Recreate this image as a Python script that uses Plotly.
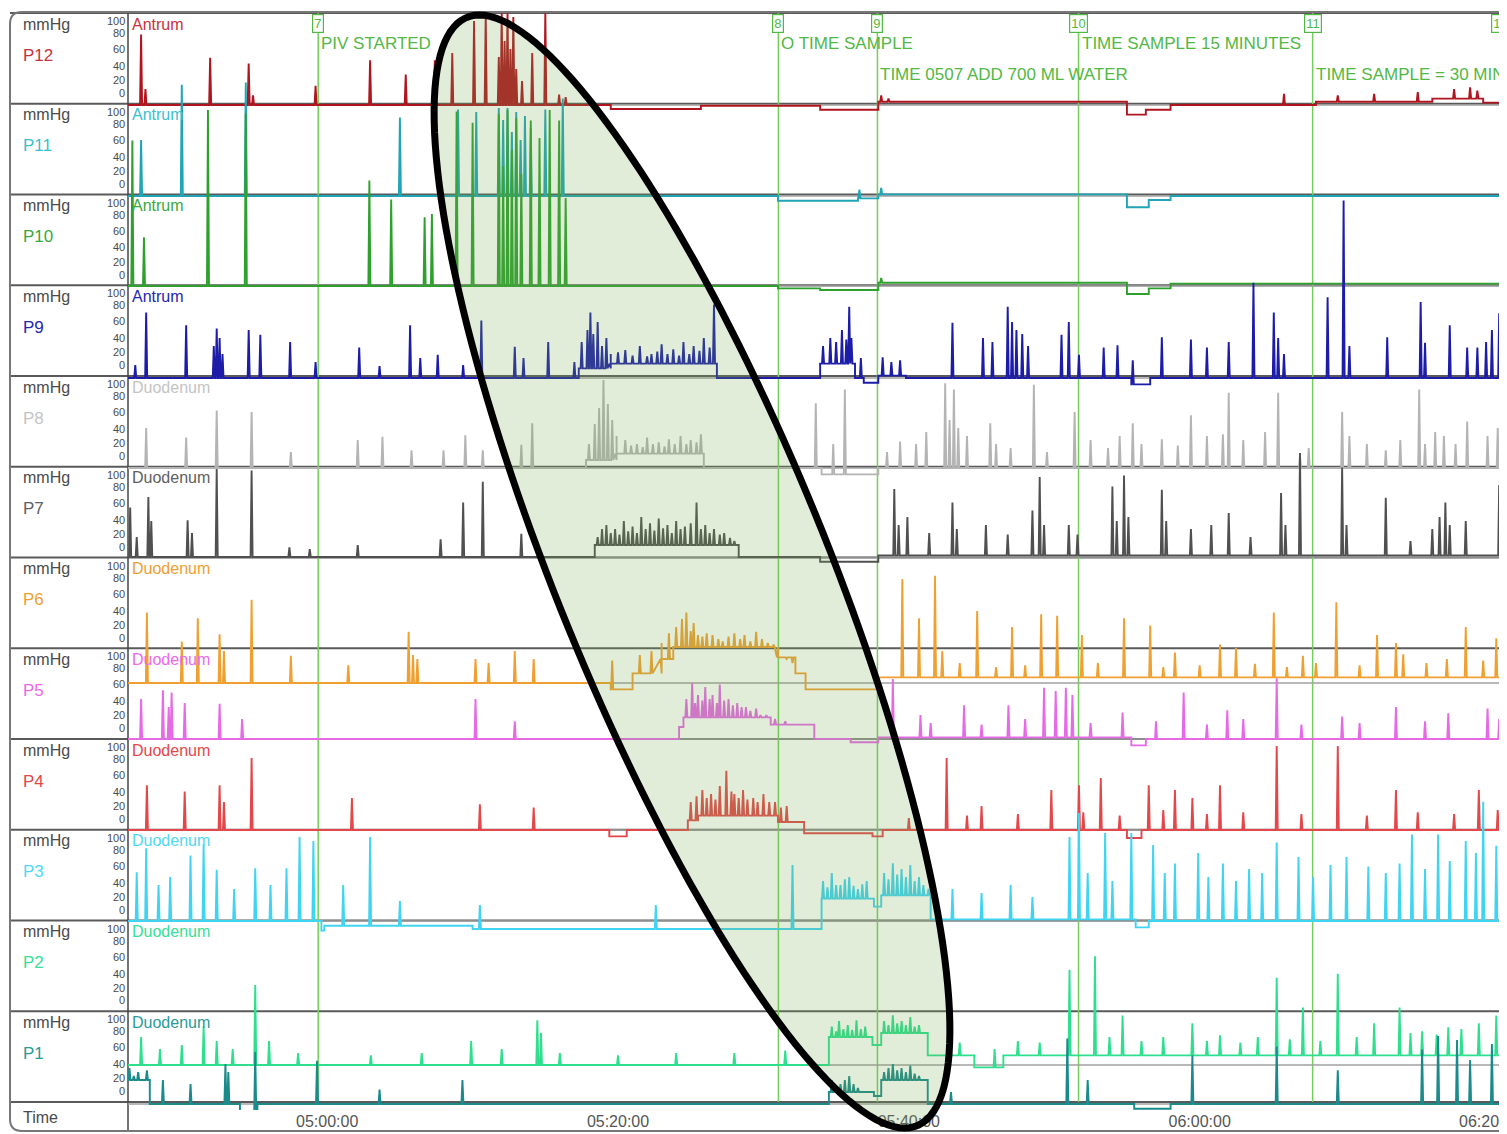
import plotly.graph_objects as go
import pandas as pd
import numpy as np

# ---------------- DATA (time in minutes after 05:00:00, pressure in mmHg) ----------------
channels = ["P12", "P11", "P10", "P9", "P8", "P7", "P6", "P5", "P4", "P3", "P2", "P1"]
regions = ["Antrum"] * 4 + ["Duodenum"] * 8
trace_colors = ["#b0141e", "#1fa5b5", "#2ea02e", "#1c1ca8", "#b4b4b4", "#505050",
                "#f0a030", "#e66ae6", "#e4474a", "#3fd4f2", "#2ee08e", "#1a8a8a"]
label_colors = ["#c8323c", "#3cc0cf", "#3aa83a", "#2626b0", "#c4c4c4", "#606060",
                "#f0a030", "#ea6aea", "#e4474a", "#50d8f4", "#36e096", "#2a9a9a"]

event_numbers = ["7", "8", "9", "10", "11", "12"]
event_times = [-0.62, 31.03, 37.84, 51.67, 67.77, 80.7]
event_texts = ["PIV STARTED", "O TIME SAMPLE", "TIME 0507 ADD 700 ML WATER",
               "TIME SAMPLE 15 MINUTES", "TIME SAMPLE = 30 MINUTES", ""]
event_text_rows = [0, 0, 1, 0, 1, 0]

time_ticks = [0, 20, 40, 60]
last_time_tick = 80
scale_ticks = [100, 80, 60, 40, 20, 0]

T_START, T_END = -13.7, 81.0

p12_steps = [(-13.7, 0), (19.5, -5), (25.7, -1), (33.9, -6), (37.9, 4), (55.0, -12), (56.3, -6),
             (58.0, 0), (68.0, 4), (76.0, 8), (79.5, 3)]
p12_spikes = [(-12.8, 88), (-12.5, 20), (-8.05, 59), (-5.4, 52), (-5.1, 12), (-0.8, 24), (2.95, 56),
              (5.4, 38), (7.4, 56), (8.6, 65), (10.1, 105), (10.9, 112), (11.8, 60), (12.0, 115),
              (12.2, 80), (12.4, 115), (12.6, 70), (12.8, 110), (13.0, 45), (13.4, 30), (14.1, 65),
              (15.0, 115), (15.95, 13), (16.4, 10), (38.1, 12), (38.6, 8), (65.8, 14), (69.5, 12),
              (72.0, 14), (75.0, 16), (77.5, 20), (78.6, 22), (79.1, 18)]

p11_steps = [(-13.7, 0), (31.0, -6), (36.5, -3), (37.9, 2), (55.0, -14), (56.5, -5), (58.0, 0)]
p11_spikes = [(-12.8, 70), (-10.0, 139), (-5.6, 142), (5.0, 98), (9.0, 108), (10.25, 105), (11.8, 110),
              (12.1, 95), (12.4, 110), (12.7, 80), (13.0, 105), (13.3, 70), (13.6, 100), (14.0, 85),
              (15.0, 108), (16.2, 122), (36.6, 8), (38.1, 10)]

p10_steps = [(-13.7, 0), (31.0, -3), (33.9, -5), (37.9, 4), (55.0, -10), (56.5, -3), (58.0, 3)]
p10_spikes = [(-13.4, 182), (-12.6, 61), (-8.2, 220), (-5.6, 216), (2.9, 132), (4.4, 108), (6.7, 86),
              (7.2, 90), (8.9, 218), (10.0, 204), (11.8, 215), (12.1, 150), (12.4, 220), (12.7, 170),
              (13.0, 210), (13.35, 140), (14.0, 207), (14.6, 185), (15.3, 220), (15.95, 207),
              (16.4, 110), (38.1, 10)]

p9_steps = [(-13.7, 0), (17.3, 12), (19.5, 18), (26.8, 0), (33.9, 18), (36.3, 0), (36.9, -6),
            (37.9, 3), (39.8, 0), (55.3, -8), (56.6, 0)]
p9_spikes = [(-13.2, 16), (-12.45, 82), (-9.7, 66), (-7.8, 40), (-7.6, 62), (-7.4, 50), (-7.2, 30),
             (-5.4, 60), (-4.6, 54), (-2.55, 45), (-0.8, 20), (2.2, 38), (3.6, 15), (5.7, 66),
             (6.4, 25), (7.6, 29), (9.35, 16), (10.6, 72), (12.9, 39), (13.5, 25), (15.2, 45),
             (17.0, 20), (17.5, 45), (17.9, 60), (18.1, 82), (18.3, 55), (18.6, 70), (18.9, 40),
             (19.2, 50), (19.5, 30), (20.0, 32), (20.5, 35), (21.0, 28), (21.5, 40), (22.0, 27),
             (22.3, 30), (22.7, 33), (23.0, 42), (23.4, 30), (23.8, 36), (24.2, 28), (24.5, 45),
             (24.9, 30), (25.2, 40), (25.6, 34), (25.9, 50), (26.3, 38), (26.6, 92), (34.1, 40),
             (34.6, 50), (35.0, 45), (35.4, 60), (35.7, 48), (35.9, 89), (36.05, 50), (36.7, 25),
             (38.2, 26), (38.8, 20), (39.4, 22), (43.0, 69), (45.1, 50), (45.75, 45), (46.8, 89),
             (47.1, 70), (47.4, 60), (47.8, 55), (48.2, 40), (50.5, 54), (51.0, 70), (51.7, 29),
             (53.4, 38), (54.35, 41), (55.4, 22), (57.4, 51), (59.4, 48), (60.5, 38), (62.0, 45),
             (63.7, 119), (65.1, 82), (65.4, 50), (65.8, 30), (68.8, 101), (69.9, 222), (70.3, 40),
             (72.9, 51), (75.2, 95), (75.5, 44), (77.2, 66), (78.4, 38), (79.1, 38), (79.7, 45),
             (80.1, 60), (80.6, 81), (80.9, 50)]

p8_steps = [(-13.7, 0), (17.8, 10), (19.9, 18), (25.9, 0), (34.0, -8), (37.9, 0)]
p8_spikes = [(-12.45, 50), (-9.7, 38), (-7.6, 72), (-5.2, 70), (-2.5, 20), (2.1, 35), (3.8, 39),
             (5.8, 22), (8.0, 22), (9.5, 41), (10.7, 22), (13.35, 29), (14.1, 56), (18.0, 30),
             (18.4, 55), (18.7, 75), (19.0, 110), (19.3, 80), (19.6, 60), (19.9, 40), (20.5, 35),
             (20.9, 28), (21.3, 30), (21.7, 26), (22.0, 38), (22.4, 30), (22.8, 32), (23.2, 27),
             (23.5, 36), (23.9, 30), (24.3, 40), (24.7, 30), (25.0, 35), (25.4, 32), (25.7, 42),
             (33.6, 81), (34.8, 30), (35.6, 98), (38.5, 20), (39.4, 33), (40.5, 30), (41.2, 45),
             (42.5, 106), (42.8, 60), (43.1, 98), (43.4, 50), (44.0, 40), (45.6, 56), (46.0, 30),
             (47.0, 25), (48.6, 104), (49.5, 20), (51.4, 70), (52.5, 35), (53.7, 25), (54.5, 40),
             (55.4, 56), (56.0, 30), (57.4, 36), (58.5, 28), (59.4, 66), (60.5, 40), (61.6, 42),
             (62.0, 94), (63.0, 35), (64.5, 45), (65.4, 94), (66.9, 15), (67.5, 25), (69.8, 70),
             (70.3, 40), (71.5, 30), (72.8, 22), (73.8, 35), (75.1, 98), (75.5, 30), (76.2, 45),
             (76.8, 40), (77.6, 30), (78.4, 58), (79.8, 40), (80.5, 50), (81.0, 35)]

p7_steps = [(-13.7, 0), (18.4, 15), (28.3, 0), (33.9, -6), (37.9, 2)]
p7_spikes = [(-13.55, 62), (-13.1, 25), (-12.3, 75), (-12.1, 45), (-9.6, 46), (-9.3, 30), (-7.6, 110),
             (-5.2, 108), (-2.6, 12), (-1.2, 10), (2.1, 15), (7.8, 22), (9.35, 68), (10.7, 94),
             (13.35, 29), (18.6, 25), (18.9, 35), (19.2, 40), (19.5, 30), (19.8, 35), (20.1, 28),
             (20.4, 45), (20.7, 32), (21.0, 38), (21.3, 30), (21.6, 50), (21.9, 35), (22.2, 42),
             (22.5, 33), (22.8, 48), (23.1, 36), (23.4, 40), (23.7, 30), (24.0, 45), (24.3, 35),
             (24.6, 38), (25.0, 42), (25.4, 68), (25.7, 35), (26.0, 40), (26.3, 30), (26.6, 35),
             (27.0, 28), (27.3, 30), (27.7, 24), (28.0, 20), (39.0, 85), (39.3, 40), (39.9, 50),
             (41.4, 30), (43.0, 68), (43.3, 35), (45.3, 40), (46.8, 28), (48.5, 58), (49.0, 100),
             (49.3, 40), (51.0, 40), (51.6, 28), (54.0, 88), (54.3, 45), (54.8, 102), (55.1, 50),
             (57.4, 84), (57.7, 45), (59.4, 35), (60.8, 40), (62.0, 55), (63.5, 25), (65.6, 80),
             (65.9, 40), (66.9, 130), (69.8, 112), (70.1, 40), (72.8, 74), (74.5, 20), (76.0, 35),
             (76.5, 50), (76.9, 68), (77.2, 40), (78.3, 45), (80.6, 90), (81.0, 70)]

p6_steps = [(-13.7, 0), (19.5, -8), (21.0, 12), (23.0, 30), (23.8, 45), (31.0, 32), (32.2, 12),
            (32.9, -8), (37.9, 7)]
p6_spikes = [(-12.4, 88), (-10.0, 52), (-8.9, 81), (-7.4, 61), (-7.1, 40), (-5.2, 104), (-2.5, 34),
             (1.45, 22), (5.6, 64), (5.9, 35), (6.2, 30), (10.2, 30), (11.1, 25), (12.9, 40),
             (14.2, 30), (19.6, 28), (21.5, 35), (22.3, 40), (23.0, 50), (23.5, 62), (24.0, 70),
             (24.4, 80), (24.7, 88), (25.0, 65), (25.2, 75), (25.5, 60), (25.8, 58), (26.1, 62),
             (26.5, 60), (26.9, 55), (27.2, 52), (27.6, 58), (28.0, 62), (28.4, 55), (28.7, 60),
             (29.1, 52), (29.5, 64), (29.9, 55), (30.3, 50), (30.7, 48), (31.0, 42), (31.6, 30),
             (32.0, 25), (39.55, 130), (40.7, 81), (41.8, 134), (42.3, 40), (43.5, 25), (44.7, 90),
             (46.0, 20), (47.1, 70), (48.0, 22), (49.1, 86), (50.2, 84), (51.9, 60), (53.0, 25),
             (54.8, 81), (56.6, 72), (57.5, 20), (58.3, 38), (60.0, 22), (61.4, 48), (62.5, 44),
             (63.8, 24), (65.1, 88), (66.0, 20), (67.1, 34), (68.0, 25), (69.4, 101), (71.0, 22),
             (72.2, 60), (73.5, 50), (74.0, 36), (75.6, 25), (77.0, 30), (78.3, 70), (79.5, 28),
             (80.4, 56)]

p5_steps = [(-13.7, 0), (24.2, 15), (24.5, 27), (30.5, 18), (33.5, 0), (36.0, -4), (37.9, 2),
            (55.3, -8), (56.3, 0)]
p5_spikes = [(-12.8, 50), (-11.3, 61), (-10.9, 40), (-10.7, 58), (-9.8, 45), (-7.4, 44), (-5.85, 25),
             (10.2, 50), (12.9, 22), (24.7, 50), (25.1, 70), (25.3, 45), (25.5, 55), (25.8, 48),
             (26.0, 65), (26.3, 50), (26.5, 55), (26.8, 45), (27.0, 68), (27.3, 48), (27.6, 50),
             (27.9, 42), (28.2, 45), (28.5, 40), (28.8, 40), (29.1, 35), (29.5, 38), (29.8, 30),
             (30.2, 30), (30.8, 25), (31.5, 22), (38.9, 75), (40.8, 30), (41.5, 20), (43.8, 42),
             (45.0, 18), (46.85, 42), (48.0, 25), (49.3, 64), (50.1, 60), (50.8, 64), (51.25, 55),
             (52.5, 20), (54.7, 33), (57.0, 22), (58.9, 58), (60.5, 18), (61.9, 36), (63.0, 25),
             (65.3, 76), (67.0, 18), (69.8, 28), (71.0, 20), (73.5, 40), (75.5, 22), (77.1, 32),
             (79.8, 38), (80.6, 25)]

p4_steps = [(-13.7, 0), (19.4, -8), (20.6, 0), (24.8, 12), (25.5, 18), (31.0, 10), (32.8, -4),
            (37.5, -8), (38.2, 0), (55.0, -10), (56.0, 0)]
p4_spikes = [(-12.4, 56), (-9.8, 48), (-7.4, 56), (-7.1, 35), (-5.2, 90), (1.7, 40), (10.5, 32),
             (14.2, 28), (25.0, 35), (25.4, 42), (25.8, 50), (26.1, 40), (26.4, 45), (26.7, 38),
             (27.0, 55), (27.45, 74), (27.8, 48), (28.0, 45), (28.3, 40), (28.6, 50), (28.9, 38),
             (29.3, 40), (29.6, 35), (30.0, 45), (30.4, 35), (30.8, 35), (31.2, 28), (31.6, 30),
             (40.0, 15), (42.6, 90), (44.0, 18), (45.0, 30), (47.5, 20), (49.8, 50), (51.7, 56),
             (52.0, 22), (53.2, 65), (54.5, 18), (56.5, 56), (57.5, 25), (58.3, 50), (59.5, 40),
             (60.5, 20), (61.4, 56), (63.0, 22), (65.3, 105), (67.0, 20), (69.5, 105), (71.5, 18),
             (73.5, 50), (75.0, 22), (77.5, 20), (79.2, 50), (80.5, 25)]

p3_steps = [(-13.7, 0), (-0.4, -12), (-0.2, -6), (10.0, -10), (34.0, 28), (37.6, 18), (38.1, 32),
            (41.5, 2), (55.6, -8), (56.5, 0)]
p3_spikes = [(-13.1, 61), (-12.45, 91), (-11.6, 45), (-10.8, 55), (-9.4, 82), (-8.5, 96), (-7.6, 64),
             (-6.4, 40), (-4.95, 66), (-3.9, 45), (-2.8, 66), (-1.9, 105), (-0.95, 100), (1.1, 45),
             (2.95, 105), (5.0, 25), (10.5, 20), (22.6, 20), (32.0, 70), (34.1, 50), (34.4, 42),
             (34.7, 60), (35.0, 45), (35.3, 45), (35.6, 52), (35.9, 55), (36.2, 44), (36.5, 40),
             (36.8, 46), (37.1, 50), (38.3, 60), (38.6, 52), (38.9, 72), (39.2, 58), (39.5, 65),
             (39.8, 55), (40.1, 70), (40.4, 50), (40.7, 55), (41.0, 45), (41.35, 40), (43.0, 40),
             (45.0, 35), (47.0, 45), (48.5, 30), (51.05, 105), (51.7, 135), (52.3, 60), (53.5, 110),
             (54.0, 50), (55.3, 110), (56.8, 95), (57.6, 60), (58.3, 72), (59.9, 85), (60.6, 55),
             (61.6, 72), (62.5, 50), (63.4, 65), (64.3, 60), (65.3, 98), (66.8, 80), (67.8, 55),
             (69.0, 70), (70.1, 80), (71.6, 68), (72.8, 60), (73.75, 72), (74.6, 108), (75.5, 65),
             (76.4, 108), (77.2, 75), (78.3, 100), (79.0, 85), (79.5, 149), (80.4, 94), (80.9, 70)]

p2_steps = [(-13.7, 0), (34.5, 35), (37.5, 25), (38.1, 40), (41.3, 12), (44.5, -3), (46.5, 12)]
p2_spikes = [(-12.8, 35), (-11.5, 20), (-10.0, 25), (-8.5, 48), (-7.6, 30), (-6.5, 20), (-4.95, 100),
             (-4.0, 30), (-2.0, 15), (3.0, 12), (6.5, 15), (9.9, 30), (12.0, 20), (14.45, 56),
             (14.7, 40), (16.0, 15), (20.0, 12), (24.0, 15), (28.0, 15), (31.5, 18), (34.7, 48),
             (35.0, 42), (35.2, 55), (35.5, 45), (35.8, 50), (36.1, 44), (36.4, 56), (36.7, 45),
             (37.0, 48), (38.3, 55), (38.6, 50), (38.9, 62), (39.2, 52), (39.5, 55), (39.8, 50),
             (40.1, 60), (40.4, 48), (40.7, 50), (43.5, 28), (45.9, 20), (47.5, 30), (49.0, 28),
             (51.05, 119), (52.8, 136), (53.8, 35), (54.7, 62), (56.0, 30), (57.5, 35), (59.5, 52),
             (60.5, 30), (61.4, 37), (62.8, 28), (64.0, 35), (65.3, 109), (66.2, 32), (67.1, 72),
             (68.3, 30), (69.5, 114), (70.8, 35), (72.0, 52), (73.75, 72), (74.5, 40), (75.3, 42),
             (76.3, 38), (77.1, 47), (78.0, 45), (79.2, 52), (80.4, 62), (80.9, 40)]

p1_steps = [(-13.7, 30), (-12.2, 0), (-6.0, -10), (-4.8, 0), (34.5, 15), (37.6, 10), (38.1, 30),
            (41.3, 0), (55.5, -6), (58.0, 0)]
p1_spikes = [(-13.6, 45), (-13.3, 35), (-13.0, 40), (-12.7, 30), (-12.4, 42), (-11.3, 30), (-9.4, 25),
             (-7.0, 50), (-6.8, 40), (-4.95, 65), (-0.7, 54), (3.6, 18), (9.3, 30), (34.7, 30),
             (35.0, 22), (35.3, 25), (35.6, 30), (35.9, 35), (36.2, 25), (36.5, 20), (38.3, 40),
             (38.6, 45), (38.9, 50), (39.2, 42), (39.5, 45), (39.8, 40), (40.1, 48), (40.4, 38),
             (40.7, 35), (42.9, 15), (50.9, 82), (52.3, 30), (59.5, 61), (65.3, 72), (69.5, 42),
             (75.3, 68), (76.4, 85), (77.7, 80), (78.6, 55), (80.1, 75)]

steps_list = [p12_steps, p11_steps, p10_steps, p9_steps, p8_steps, p7_steps,
              p6_steps, p5_steps, p4_steps, p3_steps, p2_steps, p1_steps]
spikes_list = [p12_spikes, p11_spikes, p10_spikes, p9_spikes, p8_spikes, p7_spikes,
               p6_spikes, p5_spikes, p4_spikes, p3_spikes, p2_spikes, p1_spikes]

# ---------------- LAYOUT GEOMETRY ----------------
# The page body has an 8px margin, so the figure is 8px smaller and every
# reference-pixel position below is converted relative to the plot area.
W, H = 1499, 1126
ML, MR, MT, MB = 120, 2, 4, 24
PW, PH = W - ML - MR, H - MT - MB          # 1377 x 1098
REF_L, REF_T = 128, 12                     # plot area origin in reference pixels
PX_PER_MMHG = 0.8
panel_tops = [13 + i * 90.75 for i in range(13)]
zero_px = [105, 196, 286, 378, 468, 557, 683, 739, 830, 921, 1065, 1104]
tick_offsets = [8, 20, 36, 53, 67, 80]


def px_x(px):
    return (px - REF_L) / PW


def px_y(py):
    return 1 - (py - REF_T) / PH


BASE = pd.Timestamp("2000-01-01 05:00:00")


def tm(m):
    return (BASE + pd.Timedelta(minutes=float(m))).strftime("%Y-%m-%d %H:%M:%S.%f")


def build(steps, spikes):
    steps = sorted(steps)

    def level(t):
        lv = steps[0][1]
        for ts, l in steps:
            if ts <= t:
                lv = l
        return lv

    pts = [(T_START, 0, steps[0][1])]
    prev = steps[0][1]
    for ts, lv in steps[1:]:
        pts.append((ts, 0, prev))
        pts.append((ts, 1, lv))
        prev = lv
    for t, p in spikes:
        L = level(t)
        pts.append((t - 0.07, 0, L))
        pts.append((t, 0, p))
        pts.append((t + 0.07, 0, L))
    pts.append((T_END, 2, prev))
    pts.sort(key=lambda a: (a[0], a[1]))
    return [tm(a[0]) for a in pts], [a[2] for a in pts]


fig = go.Figure()
layout_axes = {}
for i, ch in enumerate(channels):
    yname = "y" if i == 0 else f"y{i+1}"
    b = zero_px[i]
    rng = [-(REF_T + PH - b) / PX_PER_MMHG, (b - REF_T) / PX_PER_MMHG]
    ax = dict(range=rng, domain=[0, 1], visible=False, fixedrange=True)
    if i > 0:
        ax["overlaying"] = "y"
    layout_axes["yaxis" if i == 0 else f"yaxis{i+1}"] = ax
    fig.add_trace(go.Scatter(x=[tm(T_START), tm(T_END)], y=[0, 0], mode="lines",
                             line=dict(color="#a0a0a0", width=1.3), yaxis=yname,
                             hoverinfo="skip", showlegend=False))

for i, ch in enumerate(channels):
    yname = "y" if i == 0 else f"y{i+1}"
    xs, ys = build(steps_list[i], spikes_list[i])
    fig.add_trace(go.Scatter(x=xs, y=ys, mode="lines", name=ch,
                             line=dict(color=trace_colors[i], width=1.9),
                             yaxis=yname, hoverinfo="skip", showlegend=False))

shapes = []
annotations = []
FONT = "Liberation Sans, Arial, sans-serif"

for yt in panel_tops:
    shapes.append(dict(type="line", xref="paper", yref="paper", x0=px_x(10), x1=px_x(1507),
                       y0=px_y(yt), y1=px_y(yt), line=dict(color="#5a5a5a", width=2), layer="below"))
shapes.append(dict(type="line", xref="paper", yref="paper", x0=px_x(128), x1=px_x(128),
                   y0=px_y(12), y1=px_y(1131), line=dict(color="#444", width=1.5), layer="below"))
frame = (f"M {px_x(1507)},{px_y(12)} L {px_x(22)},{px_y(12)} Q {px_x(10)},{px_y(12)} {px_x(10)},{px_y(24)} "
         f"L {px_x(10)},{px_y(1119)} Q {px_x(10)},{px_y(1131)} {px_x(22)},{px_y(1131)} L {px_x(1507)},{px_y(1131)}")
shapes.append(dict(type="path", xref="paper", yref="paper", path=frame,
                   line=dict(color="#777", width=2), layer="below"))

EV_LINE = "#72cf5c"
EV_TEXT = "#52b844"
for num, t, txt, row in zip(event_numbers, event_times, event_texts, event_text_rows):
    shapes.append(dict(type="line", xref="x", yref="paper", x0=tm(t), x1=tm(t),
                       y0=px_y(1102), y1=px_y(13), line=dict(color=EV_LINE, width=1.5), layer="below"))
    annotations.append(dict(x=tm(t), y=px_y(23), xref="x", yref="paper", text=num, showarrow=False,
                            xanchor="center", yanchor="middle",
                            font=dict(family=FONT, size=13, color=EV_TEXT),
                            bordercolor=EV_TEXT, borderwidth=1.2, borderpad=1, bgcolor="white"))
    if txt:
        annotations.append(dict(x=tm(t), y=px_y(44 if row == 0 else 75), xref="x", yref="paper",
                                text=txt, showarrow=False, xanchor="left", yanchor="middle", xshift=1,
                                font=dict(family=FONT, size=17, color=EV_TEXT)))

for i, ch in enumerate(channels):
    yt = panel_tops[i]
    annotations.append(dict(x=px_x(21), y=px_y(yt + 11), xref="paper", yref="paper", text="mmHg",
                            showarrow=False, xanchor="left", yanchor="middle",
                            font=dict(family=FONT, size=16, color="#4a4a4a")))
    annotations.append(dict(x=px_x(21), y=px_y(yt + 42), xref="paper", yref="paper", text=ch,
                            showarrow=False, xanchor="left", yanchor="middle",
                            font=dict(family=FONT, size=17, color=label_colors[i])))
    for v, off in zip(scale_ticks, tick_offsets):
        annotations.append(dict(x=px_x(127), y=px_y(yt + off), xref="paper", yref="paper", text=str(v),
                                showarrow=False, xanchor="right", yanchor="middle",
                                font=dict(family=FONT, size=11, color="#4a4a4a")))
    annotations.append(dict(x=px_x(130), y=px_y(yt + 11), xref="paper", yref="paper", text=regions[i],
                            showarrow=False, xanchor="left", yanchor="middle",
                            font=dict(family=FONT, size=16, color=label_colors[i])))

annotations.append(dict(x=px_x(21), y=px_y(1117), xref="paper", yref="paper", text="Time",
                        showarrow=False, xanchor="left", yanchor="middle",
                        font=dict(family=FONT, size=16, color="#4a4a4a")))
# last time tick label (cut by the right edge, as in the source view)
annotations.append(dict(x=tm(last_time_tick), y=px_y(1121), xref="x", yref="paper",
                        text=(BASE + pd.Timedelta(minutes=last_time_tick)).strftime("%H:%M:%S"),
                        showarrow=False, xanchor="center", yanchor="middle",
                        font=dict(family=FONT, size=16, color="#555")))

th = np.linspace(0, 2 * np.pi, 181)
ey = 571.5 + 556.5 * np.sin(th)
ex = 692 + 0.382 * 556.5 * np.sin(th) + 146 * np.cos(th)
path = "M " + " L ".join(f"{px_x(a):.5f},{px_y(b):.5f}" for a, b in zip(ex, ey)) + " Z"
shapes.append(dict(type="path", xref="paper", yref="paper", path=path,
                   fillcolor="rgba(120,170,80,0.22)", line=dict(color="black", width=7), layer="above"))

fig.update_layout(
    width=W, height=H,
    margin=dict(l=ML, r=MR, t=MT, b=MB),
    paper_bgcolor="white", plot_bgcolor="rgba(0,0,0,0)",
    xaxis=dict(type="date", range=[tm(T_START), tm(T_END)], tickmode="array",
               tickvals=[tm(v) for v in time_ticks], tickformat="%H:%M:%S",
               showgrid=False, zeroline=False, showline=False, ticks="", fixedrange=True,
               tickfont=dict(family=FONT, size=16, color="#555")),
    shapes=shapes, annotations=annotations, showlegend=False,
    **layout_axes,
)

fig.write_html("out.html")
